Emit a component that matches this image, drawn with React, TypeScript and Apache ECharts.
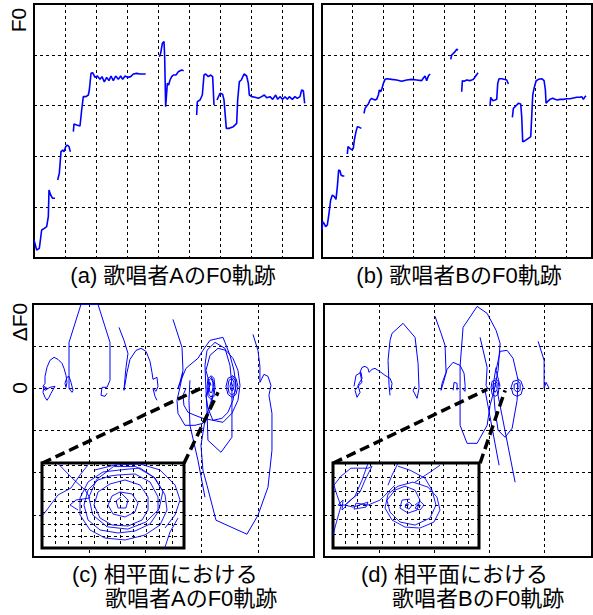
import React, { useEffect, useRef } from "react";
import * as echarts from "echarts";

// ---------- (a) singer A : F0 trajectory (x: time cells 0..9, y: F0 cells 0..5) ----------
const a1 = [[0,0.354],[0.086,0.157],[0.172,0.19],[0.247,0.551],[0.333,0.584],[0.409,0.617],[0.462,0.814],[0.484,1.339],[0.538,1.24],[0.602,1.175],[0.677,1.175]];
const a2 = [[0.763,1.535],[0.817,1.667],[0.871,2.093],[0.925,2.126],[0.968,2.093],[1.022,2.192],[1.075,2.224],[1.129,2.192],[1.172,2.093]];
const a3 = [[1.269,2.487],[1.29,2.638],[1.376,2.618],[1.484,2.598],[1.538,2.913],[1.591,3.176],[1.677,3.176],[1.753,3.209],[1.785,3.307],[1.839,3.635],[1.892,3.648],[1.968,3.556],[2.043,3.583],[2.129,3.517],[2.194,3.57],[2.269,3.465],[2.344,3.556],[2.419,3.491],[2.484,3.583],[2.559,3.491],[2.634,3.583],[2.72,3.517],[2.796,3.583],[2.86,3.517],[2.935,3.583],[3.022,3.556],[3.118,3.57],[3.204,3.622],[3.312,3.635],[3.419,3.622],[3.602,3.622]];
const a4 = [[4.043,3.963],[4.086,4.029],[4.14,4.226],[4.194,4.259],[4.215,3.963],[4.247,2.979],[4.301,3.438],[4.344,3.406],[4.387,3.504],[4.441,3.57],[4.495,3.602],[4.581,3.602],[4.656,3.668],[4.763,3.701],[4.828,3.688]];
const a5 = [[5.247,2.815],[5.269,3.077],[5.355,3.11],[5.43,3.209],[5.484,3.602],[5.538,3.622],[5.624,3.57],[5.699,3.602],[5.763,3.57],[5.806,3.012]];
const a6 = [[5.903,3.11],[6.0,3.241],[6.086,3.222],[6.129,3.11],[6.204,2.552],[6.301,2.552],[6.43,2.585],[6.538,2.651],[6.57,3.11],[6.624,3.471],[6.688,3.504],[6.774,3.622],[6.86,3.583],[6.914,3.438],[6.946,3.209],[7.022,3.176],[7.129,3.163],[7.237,3.143],[7.344,3.176],[7.43,3.209],[7.505,3.156],[7.613,3.176],[7.699,3.123],[7.796,3.209],[7.86,3.123],[7.935,3.176],[8.022,3.123],[8.097,3.176],[8.172,3.123],[8.237,3.176],[8.333,3.123],[8.419,3.176],[8.495,3.143],[8.581,3.176],[8.634,3.307],[8.688,3.294],[8.731,3.045]];

// ---------- (b) singer B : F0 trajectory ----------
const b1 = [[0,0.551],[0.022,0.715],[0.066,0.682],[0.12,0.617],[0.175,0.65],[0.23,0.879],[0.284,1.142],[0.339,1.24],[0.404,1.207],[0.459,1.155],[0.503,1.404],[0.546,1.732],[0.59,1.719],[0.623,1.634],[0.678,1.614],[0.732,1.614]];
const b2 = [[0.831,2.047],[0.852,2.192],[0.918,2.159],[0.984,2.126],[1.027,2.159],[1.06,2.323],[1.115,2.487],[1.158,2.585],[1.224,2.572],[1.29,2.552]];
const b3 = [[1.377,2.848],[1.41,2.946],[1.464,2.992],[1.519,3.031],[1.574,3.11],[1.628,3.143],[1.683,3.123],[1.738,3.11],[1.792,3.123],[1.847,3.209],[1.88,3.307],[1.923,3.274],[1.967,3.34],[2.011,3.438],[2.066,3.517],[2.142,3.53],[2.284,3.517],[2.448,3.504],[2.612,3.478],[2.776,3.504],[2.94,3.517],[3.104,3.504],[3.268,3.491],[3.322,3.543],[3.377,3.583],[3.432,3.491],[3.486,3.583],[3.541,3.622]];
const b4 = [[4.219,3.911],[4.251,3.996],[4.306,4.029],[4.361,4.062],[4.415,4.108],[4.459,4.094]];
const b5 = [[4.579,3.274],[4.601,3.491],[4.656,3.478],[4.743,3.504],[4.852,3.491],[4.962,3.517],[5.038,3.583],[5.115,3.648]];
const b6 = [[5.508,2.992],[5.53,3.163],[5.596,3.097],[5.672,3.11],[5.727,3.123],[5.76,3.438],[5.803,3.53],[5.891,3.53],[5.967,3.517],[6.055,3.504],[6.109,3.425]];
const b7 = [[6.24,2.769],[6.273,2.946],[6.35,2.992],[6.437,3.045],[6.514,3.031],[6.546,2.782],[6.579,2.29],[6.656,2.31],[6.765,2.356],[6.842,2.388],[6.874,2.782],[6.907,3.209],[6.951,3.34],[7.016,3.484],[7.093,3.517],[7.202,3.53],[7.279,3.491],[7.322,3.307],[7.344,3.045],[7.388,3.077],[7.475,3.123],[7.563,3.143],[7.639,3.123],[7.716,3.11],[7.803,3.123],[7.913,3.123],[8.022,3.136],[8.131,3.136],[8.24,3.15],[8.35,3.163],[8.459,3.163],[8.514,3.176],[8.568,3.123],[8.623,3.176],[8.656,3.189]];

// ---------- (c) singer A : phase plane (x: F0 cells 0..5, y: ΔF0 cells -4..2) ----------
const c1 = [[0.249,0],[0.196,0.047],[0.178,-0.095],[0.214,-0.213],[0.249,-0.284],[0.285,-0.213],[0.32,-0.118],[0.391,0.047],[0.302,0.024],[0.214,-0.047],[0.178,0.047],[0.214,0.118],[0.214,0.284],[0.249,0.498],[0.302,0.664],[0.374,0.735],[0.445,0.687],[0.516,0.592],[0.552,0.474],[0.587,0.308],[0.605,0.142],[0.587,0.024],[0.569,0.118],[0.605,0.261],[0.641,0.284],[0.676,0.142],[0.712,-0.047],[0.694,-0.095],[0.641,0],[0.641,0.19],[0.641,1.09],[0.854,1.99],[1.157,1.99],[1.37,1.09],[1.37,0.19],[1.317,0.024],[1.228,0.024],[1.21,-0.166],[1.281,-0.19],[1.317,-0.118]];
const c2 = [[1.53,1.445],[1.619,1.137],[1.69,0.829],[1.655,0.498],[1.637,0.237],[1.619,-0.047],[1.673,0.379],[1.726,0.687],[1.833,0.9],[1.922,0.948],[2.011,0.877],[2.082,0.64],[2.117,0.379],[2.135,0.213],[2.206,0.261],[2.224,0.047],[2.189,-0.071],[2.135,0],[2.171,-0.19],[2.206,-0.284]];
const c3 = [[2.491,1.635],[2.651,0.972],[2.669,0.427],[2.615,0.142],[2.58,0],[2.633,0.19],[2.722,0.474],[2.847,0.616],[2.935,0.711],[3.024,0.901],[3.149,1.138],[3.38,1.209],[3.416,1.09],[3.505,0.782],[3.576,0.427],[3.612,0.071],[3.558,-0.284],[3.469,-0.569],[3.362,-0.711],[3.202,-0.758],[3.024,-0.711],[2.882,-0.64],[2.758,-0.569],[2.686,-0.403],[2.669,-0.166],[2.722,0]];
const c4 = [[3.149,0.071],[3.078,0.427],[3.149,0.782],[3.291,0.948],[3.434,0.901],[3.558,0.711],[3.647,0.427],[3.683,0.071],[3.647,-0.284],[3.54,-0.593],[3.38,-0.806],[3.202,-0.758],[3.113,-0.474],[3.078,-0.166],[3.149,0.071]];
const c5 = [[3.06,0.545],[3.096,0.901],[3.238,1.09],[3.416,0.948],[3.505,0.545],[3.54,0.071],[3.54,-0.45],[3.54,-1.161],[3.345,-1.517],[3.113,-1.232],[3.096,-0.521],[3.078,-0.047],[3.06,0.545]];
const c6 = [[3.167,0.308],[3.22,0.237],[3.238,0.024],[3.22,-0.19],[3.167,-0.261],[3.113,-0.19],[3.096,0.024],[3.113,0.237],[3.167,0.284],[3.202,0.19],[3.22,0.024],[3.202,-0.142],[3.167,-0.213],[3.131,-0.142],[3.113,0.024],[3.131,0.19],[3.167,0.237],[3.202,0.142],[3.202,0.024],[3.184,-0.095],[3.149,-0.095],[3.131,0.024],[3.149,0.142],[3.167,0.071]];
const c7 = [[3.54,0.308],[3.612,0.237],[3.647,0.047],[3.612,-0.142],[3.54,-0.213],[3.469,-0.142],[3.434,0.047],[3.469,0.237],[3.54,0.284],[3.594,0.19],[3.612,0.047],[3.594,-0.095],[3.54,-0.166],[3.487,-0.095],[3.469,0.047],[3.487,0.19],[3.54,0.237],[3.576,0.142],[3.576,0.047],[3.558,-0.047],[3.523,-0.047],[3.505,0.047],[3.523,0.142],[3.54,0.095],[3.558,0.047]];
const c8 = [[3.914,1.28],[4.003,0.901],[4.038,0.521],[4.038,0.142],[4.074,0.237],[4.109,0.332],[4.181,0.284],[4.234,0.071],[4.216,-0.047],[4.198,-0.166],[4.252,-0.593],[4.252,-1.469],[4.181,-2.346],[4.003,-3.01],[3.807,-3.46],[3.256,-3.128],[3.096,-2.299],[3.024,-1.943],[2.989,-1.351],[3.06,-0.758],[3.202,-0.166]];
const c9 = [[2.793,0.19],[2.775,-0.284],[2.793,-0.877],[2.935,-1.706],[3.06,-2.583]];
const c10 = [[2.669,0.379],[2.615,0.024],[2.562,-0.284],[2.58,-0.593],[2.704,-0.877],[2.882,-0.877],[3.024,-0.83],[3.149,-0.521],[3.202,-0.166]];
const cZoomLines = [[[0.16,-1.777],[3.025,0.024]],[[2.687,-1.777],[3.292,-0.095]]];

// inset of (c) (x: 0..10.9, y: 0..7.2)
const ci1 = [[6.0,6.61],[7.538,6.78],[8.692,5.932],[9.462,4.492],[9.615,3.22],[9.077,1.949],[7.923,1.102],[6.385,0.678],[4.846,0.847],[3.692,1.525],[2.923,2.797],[2.923,4.237],[3.538,5.593],[4.692,6.441],[6.0,6.61]];
const ci2 = [[5.846,6.186],[7.154,6.271],[8.308,5.593],[8.923,4.322],[8.923,3.051],[8.308,2.034],[7.154,1.441],[5.846,1.271],[4.462,1.525],[3.538,2.373],[3.231,3.644],[3.538,4.915],[4.308,5.763],[5.231,6.102],[5.846,6.186]];
const ci3 = [[6.385,5.763],[7.538,5.339],[8.154,4.322],[8.154,3.22],[7.692,2.373],[6.615,1.864],[5.385,1.949],[4.462,2.542],[4.0,3.644],[4.308,4.746],[5.231,5.424],[6.385,5.763]];
const ci4 = [[6.0,4.746],[6.923,4.576],[7.385,3.814],[7.154,3.051],[6.385,2.627],[5.462,2.881],[5.077,3.644],[5.385,4.407],[6.0,4.746],[6.615,4.068],[6.462,3.39],[5.846,3.39],[5.692,3.983],[6.077,4.322]];
const ci5 = [[4.077,6.61],[5.615,7.034],[7.538,7.119],[9.077,6.61],[10.231,5.339],[10.615,4.068],[10.231,2.797],[9.462,1.695]];
const ci6 = [[5.5,6.9],[7.2,6.9],[8.6,6.0],[9.3,4.8],[9.0,3.3],[8.0,2.2],[6.6,1.6],[5.0,1.8],[3.9,2.8],[3.6,4.3],[4.2,5.8],[5.5,6.9]];
const ci7 = [[0.077,2.797],[1.231,4.492],[2.231,5.085],[2.923,6.186],[3.538,7.034]];
const ci8 = [[1.231,7.15],[2.308,5.932],[3.308,4.915],[3.692,4.237],[2.615,4.068],[2.154,3.644],[2.769,3.22]];
const ci9 = [[10.462,2.542],[9.846,1.356],[9.462,0.085]];

// ---------- (d) singer B : phase plane ----------
const d1 = [[0.545,0.047],[0.582,0.308],[0.673,0.379],[0.691,0.237],[0.618,0.071],[0.655,-0.095],[0.6,-0.213],[0.564,-0.047],[0.636,0.071],[0.691,0.142],[0.655,0.379],[0.691,0.498],[0.745,0.521],[0.8,0.474],[0.818,0.379],[0.873,0.45],[0.927,0.474],[0.982,0.427],[1.036,0.379],[1.109,0.308],[1.2,0.237],[1.236,0.119],[1.218,-0.047]];
const d2 = [[1.2,-0.166],[1.182,0.071],[1.164,0.664],[1.2,1.138],[1.236,1.304],[1.436,1.541],[1.655,1.209],[1.709,0.593],[1.727,0],[1.691,-0.237],[1.618,-0.047],[1.655,0.047]];
const d3 = [[2.018,1.706],[2.127,1.304],[2.2,1.019],[2.218,0.379],[2.145,0.119],[2.127,-0.047],[2.182,0.19],[2.236,0.45],[2.345,0.616],[2.473,0.545],[2.545,0.356],[2.564,0.071],[2.564,-0.071],[2.509,0]];
const d4 = [[2.345,-0.047],[2.364,0.142],[2.418,0.119],[2.418,-0.047]];
const d5 = [[2.473,-0.047],[2.473,0.521],[2.527,1.446],[2.782,1.943],[2.964,1.778],[3.127,1.375],[3.2,1.067],[3.164,0.427],[3.091,-0.047],[3.018,-0.403],[2.964,-0.877],[2.782,-1.304],[2.6,-1.304],[2.473,-0.877],[2.473,-0.284],[2.473,-0.047]];
const d6 = [[2.836,1.209],[2.964,0.498],[2.945,0.071],[2.982,-0.024]];
const d7 = [[3.2,0.047],[3.127,0.427],[3.2,0.877],[3.327,0.901],[3.436,0.711],[3.527,0.19],[3.509,-0.284],[3.418,-0.948],[3.291,-1.161],[3.164,-0.995],[3.109,-0.521],[3.073,0.071],[3.127,0.498]];
const d8 = [[3.109,0.237],[3.164,0.166],[3.182,0.024],[3.164,-0.142],[3.109,-0.19],[3.055,-0.142],[3.036,0.024],[3.055,0.166],[3.109,0.19],[3.145,0.119],[3.145,-0.024],[3.109,-0.095],[3.073,-0.024],[3.073,0.095],[3.109,0.119],[3.127,0.024]];
const d9 = [[3.509,0.237],[3.582,0.166],[3.618,0.024],[3.582,-0.142],[3.509,-0.19],[3.436,-0.142],[3.4,0.024],[3.436,0.166],[3.509,0.19],[3.564,0.119],[3.564,-0.047],[3.509,-0.095],[3.455,-0.024],[3.455,0.095],[3.509,0.119],[3.527,0.024]];
const d10 = [[2.927,-0.047],[3.182,-1.825]];
const d11 = [[3.145,-0.047],[3.473,-2.228]];
const d12 = [[3.891,1.114],[4.0,0.664],[4.0,0],[4.036,0.142],[4.091,0]];
const dZoomLines = [[[0.164,-1.777],[2.964,-0.024]],[[2.836,-1.777],[3.291,-0.047]]];

// inset of (d) (x: 0..11.9, y: 0..6)
const di1 = [[0,0.915],[0.325,1.972],[0.65,2.958],[0.325,3.732],[0.081,4.437],[0.65,5.07],[1.463,5.634],[2.846,5.634],[3.171,5.775],[2.602,4.789],[2.195,3.944],[0.976,3.028],[0.407,3.028],[0.813,3.38],[0.732,2.676],[1.057,2.958]];
const di2 = [[0.976,3.028],[1.626,2.887],[2.846,3.239],[2.683,2.887],[1.707,2.746],[1.87,3.169],[2.846,3.028],[3.821,3.38],[4.472,3.944],[5.041,4.437]];
const di3 = [[6.504,4.648],[7.724,4.296],[8.455,3.592],[8.699,2.676],[8.211,1.831],[7.073,1.408],[5.854,1.479],[4.797,1.972],[4.228,2.817],[4.472,3.803],[5.285,4.366],[6.504,4.648]];
const di4 = [[5.285,5.775],[6.26,5.493],[7.48,4.93],[8.049,4.085],[8.374,3.028],[7.886,2.113],[6.667,1.62],[5.447,1.831],[4.634,2.535],[4.39,3.38],[5.041,4.085],[5.854,4.366],[6.667,4.085],[7.073,3.38],[6.829,2.676],[6.098,2.465],[5.447,2.817],[5.61,3.38],[6.26,3.451]];
const di5 = [[5.854,3.028],[6.179,3.239],[6.423,3.028],[6.179,2.746],[5.854,2.887],[6.016,3.099],[6.179,3.028]];
const di6 = [[6.667,3.028],[7.073,3.31],[7.398,3.028],[7.073,2.676],[6.667,2.817],[6.911,3.099],[7.154,2.958]];
const di7 = [[6.667,4.648],[7.886,5.352],[8.699,5.845]];
const di8 = [[2.846,5.98],[2.358,4.789],[1.789,3.662],[0.976,3.028]];
const di9 = [[5.285,5.98],[4.797,5.141],[4.472,4.437]];

// ---------- texts ----------
const captionA = "(a) 歌唱者AのF0軌跡";
const captionB = "(b) 歌唱者BのF0軌跡";
const captionC1 = "(c) 相平面における";
const captionC2 = "歌唱者AのF0軌跡";
const captionD1 = "(d) 相平面における";
const captionD2 = "歌唱者BのF0軌跡";
const yLabelF0 = "F0";
const yLabelDF0 = "ΔF0";
const yLabelZero = "0";

const BLUE = "#0000ff";
const FONT = "'Liberation Sans', 'Noto Sans CJK JP', sans-serif";

const splitLine = {
  show: true,
  showMinLine: false,
  showMaxLine: false,
  lineStyle: { color: "#000", type: [3, 3], width: 1 },
};

function axis(gridIndex: number, min: number, max: number, z = 0) {
  return {
    type: "value",
    gridIndex,
    min,
    max,
    interval: 1,
    z,
    axisLine: { show: false },
    axisTick: { show: false },
    axisLabel: { show: false },
    splitLine,
  };
}

function lines(segs: number[][][], idx: number, width: number, z: number) {
  return segs.map((seg) => ({
    type: "line",
    xAxisIndex: idx,
    yAxisIndex: idx,
    data: seg,
    showSymbol: false,
    symbol: "none",
    smooth: false,
    silent: true,
    z,
    lineStyle: { color: BLUE, width },
  }));
}

function dashed(segs: number[][][], idx: number) {
  return segs.map((seg) => ({
    type: "line",
    xAxisIndex: idx,
    yAxisIndex: idx,
    data: seg,
    showSymbol: false,
    symbol: "none",
    silent: true,
    z: 8,
    lineStyle: { color: "#000", width: 3.5, type: [10, 5] },
  }));
}

function text(t: string, x: number, y: number, align: string, size: number, rotation = 0) {
  return {
    type: "text",
    x,
    y,
    rotation,
    z: 100,
    style: {
      text: t,
      fill: "#000",
      font: `${size}px ${FONT}`,
      align,
      verticalAlign: "middle",
    },
  };
}

export default function App() {
  const ref = useRef<HTMLDivElement>(null);
  useEffect(() => {
    if (!ref.current) return;
    const chart = echarts.init(ref.current, undefined, { renderer: "svg" });
    const frame = { show: true, borderColor: "#000", borderWidth: 2, backgroundColor: "transparent" };
    const inset = { show: true, borderColor: "#000", borderWidth: 3, backgroundColor: "#fff", z: 10 };
    chart.setOption({
      animation: false,
      grid: [
        { left: 34, top: 4, width: 279, height: 254, ...frame },
        { left: 322, top: 4, width: 270, height: 254, ...frame },
        { left: 33, top: 304, width: 281, height: 253, ...frame },
        { left: 324, top: 304, width: 268, height: 253, ...frame },
        { left: 42, top: 463, width: 142, height: 85, ...inset },
        { left: 333, top: 463, width: 146, height: 85, ...inset },
      ],
      xAxis: [
        axis(0, 0, 9),
        axis(1, 0, 8.85),
        axis(2, 0, 5),
        axis(3, 0, 4.87),
        axis(4, 0, 10.92, 11),
        axis(5, 0, 11.87, 11),
      ],
      yAxis: [
        axis(0, 0, 5),
        axis(1, 0, 5),
        axis(2, -4, 2),
        axis(3, -4, 2),
        axis(4, 0, 7.2, 11),
        axis(5, 0, 6, 11),
      ],
      series: [
        ...lines([a1, a2, a3, a4, a5, a6], 0, 1.6, 2),
        ...lines([b1, b2, b3, b4, b5, b6, b7], 1, 1.6, 2),
        ...lines([c1, c2, c3, c4, c5, c6, c7, c8, c9, c10], 2, 1, 2),
        ...lines([d1, d2, d3, d4, d5, d6, d7, d8, d9, d10, d11, d12], 3, 1, 2),
        ...dashed(cZoomLines, 2),
        ...dashed(dZoomLines, 3),
        ...lines([ci1, ci2, ci3, ci4, ci5, ci6, ci7, ci8, ci9], 4, 0.9, 12),
        ...lines([di1, di2, di3, di4, di5, di6, di7, di8, di9], 5, 0.9, 12),
      ],
      graphic: [
        text(yLabelF0, 18, 20, "center", 21, Math.PI / 2),
        text(yLabelDF0, 19, 322, "center", 21, Math.PI / 2),
        text(yLabelZero, 19, 388, "center", 21, Math.PI / 2),
        text(captionA, 173, 275, "center", 22),
        text(captionB, 459, 275, "center", 22),
        text(captionC1, 72, 574, "left", 22),
        text(captionC2, 105, 598, "left", 22),
        text(captionD1, 361, 574, "left", 22),
        text(captionD2, 392, 598, "left", 22),
      ],
    });
    return () => chart.dispose();
  }, []);
  return (
    <div
      ref={ref}
      style={{ position: "absolute", left: 0, top: 0, width: 593, height: 615, background: "#fff" }}
    />
  );
}
